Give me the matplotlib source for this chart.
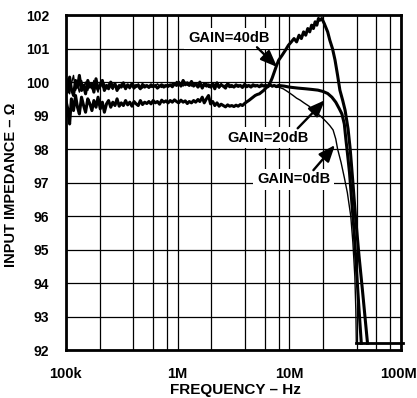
import matplotlib
matplotlib.use("Agg")
import matplotlib.pyplot as plt
from matplotlib.ticker import FixedLocator, NullFormatter
from matplotlib.transforms import ScaledTranslation

# ---------------- data (frequency in MHz, impedance in ohms) ----------------
freq_low = [0.10, 0.104, 0.108, 0.112, 0.117, 0.122, 0.127, 0.132, 0.138, 0.144,
            0.15, 0.157, 0.164, 0.171, 0.178, 0.186, 0.194, 0.203, 0.212, 0.221,
            0.231, 0.241, 0.252, 0.263, 0.275, 0.287, 0.30, 0.313, 0.327, 0.342,
            0.357, 0.373, 0.39, 0.407, 0.425, 0.444, 0.464, 0.485, 0.507, 0.53,
            0.553, 0.578, 0.604, 0.631, 0.659, 0.689, 0.72, 0.752, 0.786, 0.821,
            0.858, 0.896, 0.936, 0.978, 1.02, 1.07, 1.12, 1.17, 1.22, 1.27,
            1.33, 1.39, 1.45, 1.52, 1.58, 1.66, 1.73, 1.81, 1.89, 1.97,
            2.06, 2.15, 2.25, 2.35, 2.45, 2.56, 2.68, 2.80, 2.92, 3.05,
            3.19, 3.33, 3.48, 3.64, 3.80, 3.97, 4.15, 4.33, 4.53, 4.73,
            4.94, 5.16, 5.39, 5.63, 5.88, 6.15, 6.42, 6.71, 7.01, 7.32,
            7.65, 8.0]

z20_low = [99.95, 99.70, 100.15, 99.80, 99.60, 100.05, 99.85, 100.20, 99.75, 99.90,
           99.65, 100.05, 99.85, 99.95, 99.70, 100.10, 99.80, 99.90, 100.05, 99.75,
           99.90, 99.80, 100.00, 99.85, 99.95, 99.75, 99.90, 99.85, 99.98, 99.80,
           99.92, 99.85, 99.95, 99.82, 99.90, 99.88, 99.80, 99.93, 99.85, 99.90,
           99.84, 99.92, 99.86, 99.90, 99.82, 99.88, 99.92, 99.85, 99.90, 99.87,
           99.92, 99.86, 99.95, 99.90, 100.00, 99.88, 100.05, 99.92, 99.98, 99.90,
           100.02, 99.88, 99.95, 99.85, 100.00, 99.82, 99.95, 99.88, 99.92, 99.85,
           99.95, 99.80, 99.98, 99.85, 99.92, 99.88, 99.82, 99.95, 99.86, 99.90,
           99.85, 99.92, 99.87, 99.90, 99.84, 99.93, 99.86, 99.90, 99.85, 99.92,
           99.88, 99.90, 99.86, 99.92, 99.88, 99.90, 99.86, 99.92, 99.88, 99.90,
           99.87, 99.90]

z0_low = [99.80, 100.10, 99.65, 99.95, 100.20, 99.75, 99.90, 99.70, 100.05, 99.85,
          100.00, 99.75, 99.95, 99.80, 100.05, 99.85, 99.70, 100.00, 99.85, 99.95,
          99.80, 99.95, 99.85, 99.78, 99.92, 99.88, 99.80, 99.95, 99.85, 99.90,
          99.86, 99.80, 99.90, 99.92, 99.84, 99.95, 99.88, 99.82, 99.92, 99.86,
          99.90, 99.84, 99.92, 99.86, 99.95, 99.88, 99.84, 99.92, 99.86, 99.93,
          99.88, 99.96, 99.90, 100.02, 99.92, 99.98, 99.88, 100.00, 99.90, 99.96,
          99.88, 99.98, 99.90, 99.95, 99.86, 99.92, 99.88, 99.98, 99.84, 99.92,
          99.86, 99.94, 99.88, 99.82, 99.96, 99.85, 99.92, 99.88, 99.94, 99.84,
          99.90, 99.86, 99.92, 99.88, 99.90, 99.86, 99.92, 99.88, 99.91, 99.86,
          99.92, 99.88, 99.90, 99.86, 99.90, 99.92, 99.88, 99.90, 99.86, 99.88,
          99.84, 99.85]

z40_low = [99.45, 99.20, 98.75, 99.50, 99.15, 99.60, 99.25, 99.05, 99.55, 99.30,
           99.10, 99.50, 99.35, 99.15, 99.45, 99.25, 99.55, 99.20, 99.40, 99.10,
           99.35, 99.45, 99.25, 99.40, 99.30, 99.50, 99.28, 99.38, 99.30, 99.45,
           99.32, 99.40, 99.28, 99.42, 99.35, 99.30, 99.45, 99.33, 99.40, 99.36,
           99.42, 99.35, 99.45, 99.38, 99.42, 99.34, 99.46, 99.40, 99.44, 99.38,
           99.45, 99.40, 99.47, 99.42, 99.38, 99.46, 99.40, 99.44, 99.36, 99.42,
           99.38, 99.45, 99.40, 99.48, 99.42, 99.55, 99.38, 99.50, 99.60, 99.35,
           99.42, 99.30, 99.38, 99.28, 99.34, 99.30, 99.26, 99.32, 99.28, 99.30,
           99.27, 99.31, 99.28, 99.33, 99.30, 99.36, 99.41, 99.45, 99.50, 99.55,
           99.60, 99.63, 99.65, 99.70, 99.75, 99.82, 99.88, 99.97, 100.12, 100.30,
           100.48, 100.65]

freq_40_high = [8.6, 9.2, 9.8, 10.4, 11.0, 11.6, 12.2, 12.8, 13.4, 14.0, 14.6, 15.2,
                15.8, 16.4, 17.0, 17.6, 18.2, 18.8, 19.5, 20.5, 22.0, 23.0, 24.3,
                25.6, 27.0, 28.3, 30.0, 31.5, 33.5, 35.0, 37.0, 39.0, 42.0, 45.0,
                48.0, 50.0]
z40_high = [100.80, 100.95, 101.10, 101.20, 101.30, 101.20, 101.40, 101.30, 101.50,
            101.40, 101.60, 101.50, 101.70, 101.60, 101.80, 101.70, 101.90, 101.85,
            101.90, 101.75, 101.50, 101.25, 101.00, 100.66, 100.20, 99.76, 99.45,
            99.16, 98.60, 98.00, 97.00, 96.00, 94.80, 93.80, 92.80, 92.20]

freq_20_high = [9.0, 10.0, 12.0, 14.0, 16.0, 18.0, 20.0, 22.0, 24.0, 26.0, 28.0,
                29.5, 31.0, 32.0, 33.0, 34.5, 36.0, 38.0, 40.0, 42.0, 44.0]
z20_high = [99.88, 99.85, 99.82, 99.80, 99.78, 99.76, 99.72, 99.66, 99.55, 99.40,
            99.20, 99.05, 98.75, 98.30, 97.90, 97.30, 96.50, 95.50, 94.30, 93.20,
            92.20]

freq_0_high = [8.8, 9.6, 10.8, 11.6, 12.5, 13.5, 15.0, 16.3, 17.7, 19.5, 21.6, 23.0,
               24.6, 26.0, 27.0, 29.0, 31.0, 33.0, 35.4, 37.0, 38.5, 39.3, 39.7]
z0_high = [99.80, 99.72, 99.60, 99.52, 99.46, 99.38, 99.28, 99.16, 99.07, 98.95,
           98.80, 98.70, 98.57, 98.30, 98.00, 97.60, 97.15, 96.70, 96.00, 95.20,
           94.20, 93.20, 92.20]

floor_freq = [39.7, 104.0]
floor_z = [92.2, 92.2]

y_ticks = [92, 93, 94, 95, 96, 97, 98, 99, 100, 101, 102]
x_ticks_mhz = [0.1, 1, 10, 100]
x_tick_labels = ["100k", "1M", "10M", "100M"]
minor_mult = [2, 4, 6, 8]

labels = ["GAIN=40dB", "GAIN=20dB", "GAIN=0dB"]
label_pos_mhz = [(2.87, 101.31), (6.43, 98.34), (10.9, 97.10)]
arrow_start = [(5.13, 101.04), (11.86, 98.62), (16.4, 97.37)]
arrow_tip = [(7.77, 100.45), (20.8, 99.46), (25.6, 98.12)]

# ---------------- plotting ----------------
plt.rcParams['font.family'] = ['Liberation Sans', 'DejaVu Sans']
plt.rcParams['font.weight'] = 'bold'

fig = plt.figure(figsize=(4.17, 3.98), dpi=100)
ax = fig.add_axes([0.158, 0.1206, 0.804, 0.8414])

MHZ = 1e6
def hz(lst):
    return [f * MHZ for f in lst]

ax.plot(hz(freq_low + freq_40_high), z40_low + z40_high, color='black', lw=2.2, zorder=3)
ax.plot(hz(freq_low + freq_20_high), z20_low + z20_high, color='black', lw=2.2, zorder=3)
ax.plot(hz(freq_low + freq_0_high), z0_low + z0_high, color='black', lw=1.0, zorder=3)
ax.plot(hz(floor_freq), floor_z, color='black', lw=2.0, zorder=3, clip_on=False)

ax.set_xscale('log')
ax.set_xlim(0.1 * MHZ, 100 * MHZ)
ax.set_ylim(92, 102)

ax.xaxis.set_major_locator(FixedLocator(hz(x_ticks_mhz)))
ax.set_xticklabels(x_tick_labels)
minors = [m * d for d in [0.1, 1, 10] for m in minor_mult]
ax.xaxis.set_minor_locator(FixedLocator(hz(minors)))
ax.xaxis.set_minor_formatter(NullFormatter())
ax.set_yticks(y_ticks)

ax.grid(True, which='both', axis='x', color='black', lw=0.9)
ax.grid(True, which='major', axis='y', color='black', lw=0.9)
ax.set_axisbelow(True)

ax.tick_params(axis='both', which='both', length=0)
ax.tick_params(axis='x', pad=12, labelsize=10.5)
ax.tick_params(axis='y', pad=12, labelsize=10)
for lab in ax.get_xticklabels() + ax.get_yticklabels():
    lab.set_fontweight('bold')
# keep the last x label inside the canvas
last = ax.get_xticklabels()[-1]
last.set_transform(last.get_transform() + ScaledTranslation(-3 / 100, 0, fig.dpi_scale_trans))

for sp in ax.spines.values():
    sp.set_linewidth(2.0)
    sp.set_zorder(5)

for txt, pos, st, tip in zip(labels, label_pos_mhz, arrow_start, arrow_tip):
    ax.text(pos[0] * MHZ, pos[1], txt, ha='center', va='center', fontsize=10.5,
            fontweight='bold', zorder=6,
            bbox=dict(boxstyle='square,pad=0.25', fc='white', ec='none'))
    ax.annotate('', xy=(tip[0] * MHZ, tip[1]), xytext=(st[0] * MHZ, st[1]),
                arrowprops=dict(arrowstyle='-|>,head_length=1.0,head_width=0.4',
                                lw=1.7, color='black', shrinkA=0, shrinkB=0),
                zorder=6)

fig.text(235 / 417, 1 - 390 / 398, "FREQUENCY – Hz", ha='center', va='center',
         fontsize=11, fontweight='bold')
fig.text(11 / 417, 1 - 185 / 398, "INPUT IMPEDANCE – Ω", ha='center', va='center',
         rotation=90, fontsize=10.5, fontweight='bold')

fig.savefig("out.png", dpi=100)
